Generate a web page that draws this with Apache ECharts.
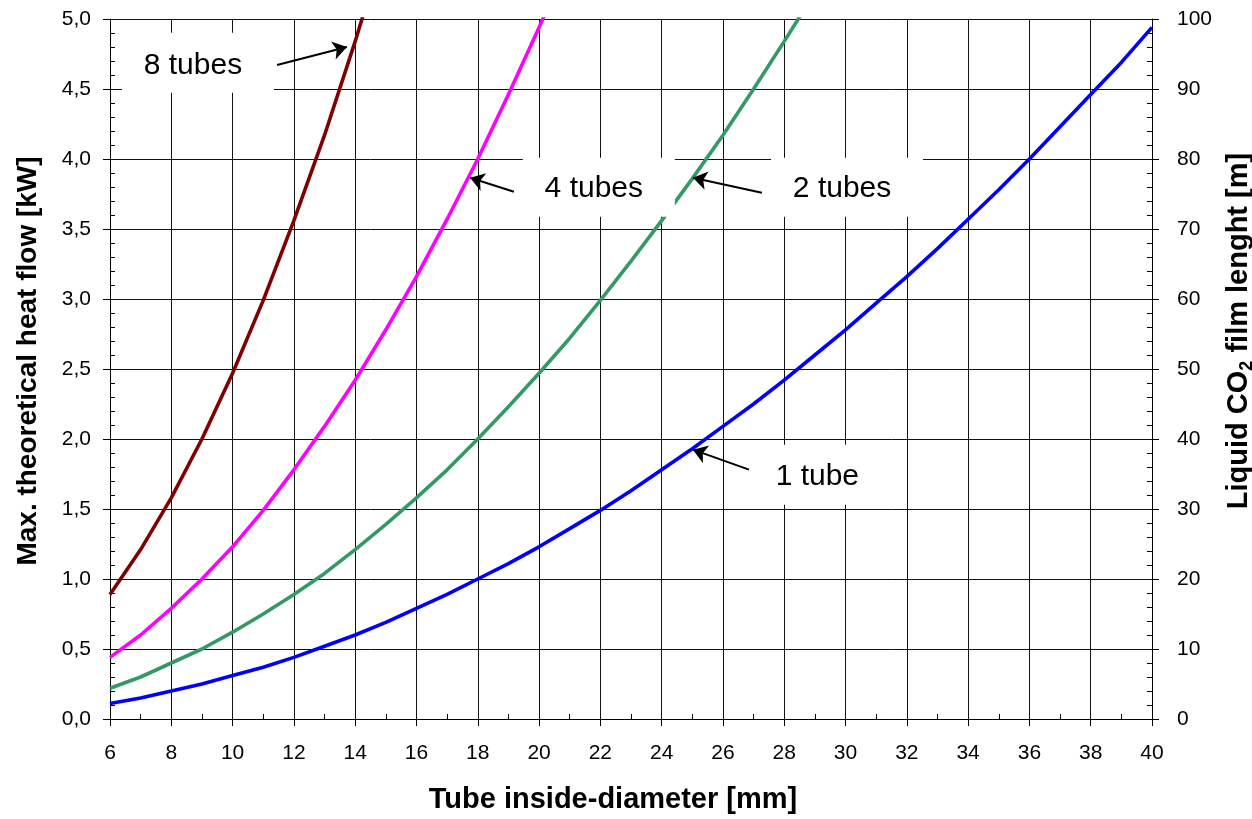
<!DOCTYPE html>
<html>
<head>
<meta charset="utf-8">
<title>Heat flow vs tube diameter</title>
<script src="https://cdn.jsdelivr.net/npm/echarts@6/dist/echarts.min.js"></script>
<style>
  html, body { margin: 0; padding: 0; background: #fff; }
  #chart { width: 1252px; height: 819px; }
</style>
</head>
<body>
<div id="chart"></div>
<script>
// tube inside diameter [mm]
const diameters = [6, 7, 8, 9, 10, 11, 12, 13, 14, 15, 16, 17, 18, 19, 20, 21, 22, 23,
  24, 25, 26, 27, 28, 29, 30, 31, 32, 33, 34, 35, 36, 37, 38, 39, 40];

// max. theoretical heat flow [kW]
const oneTube = [0.11, 0.15, 0.20, 0.25, 0.31, 0.37, 0.44, 0.52, 0.60, 0.69, 0.79, 0.89,
  1.00, 1.11, 1.23, 1.36, 1.49, 1.63, 1.78, 1.93, 2.09, 2.25, 2.42, 2.60, 2.78, 2.97,
  3.16, 3.36, 3.57, 3.78, 4.00, 4.23, 4.46, 4.69, 4.94];
const twoTubes = [0.22, 0.30, 0.40, 0.50, 0.62, 0.75, 0.89, 1.04, 1.21, 1.39, 1.58, 1.78,
  2.00, 2.23, 2.47, 2.72, 2.99, 3.27, 3.56, 3.86, 4.17, 4.50, 4.84, 5.19];
const fourTubes = [0.44, 0.60, 0.79, 1.00, 1.23, 1.49, 1.78, 2.09, 2.42, 2.78, 3.16, 3.57,
  4.00, 4.46, 4.94, 5.44];
const eightTubes = [0.89, 1.21, 1.58, 2.00, 2.47, 2.99, 3.56, 4.17, 4.84, 5.56];

const seriesNames = ['8 tubes', '4 tubes', '2 tubes', '1 tube'];
const seriesColors = ['#800000', '#FF00FF', '#339966', '#0000FF'];

const font = 'Liberation Sans, Arial, sans-serif';
const toPairs = vals => vals.map((v, i) => [diameters[i], v]);

const chart = echarts.init(document.getElementById('chart'));

const curve = (name, vals, color) => ({
  name: name,
  type: 'line',
  data: toPairs(vals),
  showSymbol: false,
  symbol: 'none',
  silent: true,
  lineStyle: { color: color, width: 3.6 },
  itemStyle: { color: color },
  z: 2,
});

const option = {
  backgroundColor: '#fff',
  animation: false,
  textStyle: { fontFamily: font },
  grid: { left: 110, right: 100, top: 19, bottom: 100, outerBoundsMode: 'none', containLabel: false },
  xAxis: {
    type: 'value',
    min: 6,
    max: 40,
    interval: 2,
    name: 'Tube inside-diameter [mm]',
    nameLocation: 'middle',
    nameGap: 66,
    nameTextStyle: { fontSize: 29, fontWeight: 'bold', color: '#000', padding: [0, 36, 0, 0] },
    axisLine: { lineStyle: { color: '#000', width: 1 } },
    axisTick: { show: true, length: 7, lineStyle: { color: '#000' } },
    minorTick: { show: true, splitNumber: 2, length: -5, lineStyle: { color: '#000' } },
    axisLabel: { fontSize: 21, color: '#000', margin: 24 },
    splitLine: { show: true, lineStyle: { color: '#111', width: 1 } },
  },
  yAxis: [
    {
      type: 'value',
      min: 0,
      max: 5,
      interval: 0.5,
      name: 'Max. theoretical heat flow [kW]',
      nameLocation: 'middle',
      nameGap: 68,
      nameTextStyle: { fontSize: 28, fontWeight: 'bold', color: '#000', padding: [0, 0, 0, 16] },
      axisLine: { show: true, lineStyle: { color: '#000', width: 1 } },
      axisTick: { show: true, length: 7, lineStyle: { color: '#000' } },
      minorTick: { show: true, splitNumber: 5, length: -5, lineStyle: { color: '#000' } },
      axisLabel: {
        fontSize: 21,
        color: '#000',
        margin: 19,
        formatter: v => v.toFixed(1).replace('.', ','),
      },
      splitLine: { show: true, lineStyle: { color: '#111', width: 1 } },
    },
    {
      type: 'value',
      position: 'right',
      min: 0,
      max: 100,
      interval: 10,
      name: '{a|Liquid CO}{s|2}{a| film lenght [m]}',
      nameLocation: 'middle',
      nameGap: 70,
      nameTextStyle: {
        color: '#000',
        padding: [0, 0, 0, 76],
        rich: {
          a: { fontSize: 29, fontWeight: 'bold', color: '#000', fontFamily: font, lineHeight: 34 },
          s: { fontSize: 18, fontWeight: 'bold', color: '#000', fontFamily: font,
            verticalAlign: 'bottom', lineHeight: 17 },
        },
      },
      axisLine: { show: true, lineStyle: { color: '#000', width: 1 } },
      axisTick: { show: true, length: 7, lineStyle: { color: '#000' } },
      minorTick: { show: true, splitNumber: 5, length: -5, lineStyle: { color: '#000' } },
      axisLabel: { fontSize: 21, color: '#000', margin: 25 },
      splitLine: { show: false },
    },
  ],
  series: [
    curve(seriesNames[0], eightTubes, seriesColors[0]),
    curve(seriesNames[1], fourTubes, seriesColors[1]),
    curve(seriesNames[2], twoTubes, seriesColors[2]),
    curve(seriesNames[3], oneTube, seriesColors[3]),
    {
      // labels and arrows on top of the curves
      name: 'notes',
      type: 'line',
      data: [],
      silent: true,
      markPoint: {
        silent: true,
        symbol: 'rect',
        itemStyle: { color: '#fff' },
        label: {
          show: true,
          position: 'inside',
          formatter: '{b}',
          fontSize: 30,
          color: '#000',
          fontFamily: font,
        },
        data: [
          { name: '8 tubes', coord: [8.87, 4.688], symbolSize: [152, 60], label: { offset: [-5, 3] } },
          { name: '4 tubes', coord: [21.95, 3.799], symbolSize: [152, 59], label: { offset: [-5, 2] } },
          { name: '2 tubes', coord: [30.05, 3.799], symbolSize: [152, 59], label: { offset: [-5, 2] } },
          { name: '1 tube', coord: [29.08, 1.745], symbolSize: [125, 60], label: { offset: [0, 2] } },
        ],
      },
      markLine: {
        silent: true,
        symbol: ['none', 'arrow'],
        symbolSize: 14,
        label: { show: false },
        lineStyle: { color: '#000', width: 2, type: 'solid' },
        data: [
          [{ coord: [11.45, 4.672] }, { coord: [13.73, 4.80] }],
          [{ coord: [19.18, 3.766] }, { coord: [17.75, 3.866] }],
          [{ coord: [27.27, 3.759] }, { coord: [25.02, 3.866] }],
          [{ coord: [26.85, 1.781] }, { coord: [25.02, 1.924] }],
        ],
      },
    },
  ],
};

chart.setOption(option);
</script>
</body>
</html>
